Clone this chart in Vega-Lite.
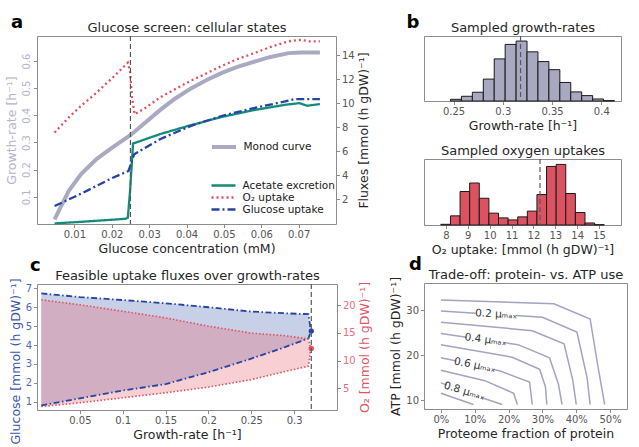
{
  "$schema": "https://vega.github.io/schema/vega-lite/v6.json",
  "padding": {"left": 5, "top": 13, "right": 0, "bottom": 0},
  "background": "white",
  "config": {
    "font": "DejaVu Sans",
    "view": {"stroke": "#8c8c8c", "strokeWidth": 1},
    "axis": {"domain": false, "grid": false, "labelFont": "DejaVu Sans", "titleFont": "DejaVu Sans", "labelFontSize": 10, "labelColor": "#555555", "titleFontSize": 12.5, "titleFontWeight": "normal", "titleColor": "#262626", "tickColor": "#8c8c8c", "tickSize": 3.5, "labelPadding": 2, "titlePadding": 3},
    "title": {"font": "DejaVu Sans", "fontSize": 18, "fontWeight": "bold", "color": "#000000", "anchor": "start", "frame": "group", "offset": 0},
    "legend": {"labelFont": "DejaVu Sans"}
  },
  "datasets": {
    "monod": [
      {"x": 0.0047, "g": 0.017, "s": "Monod curve"},
      {"x": 0.0085, "g": 0.122, "s": "Monod curve"},
      {"x": 0.0118, "g": 0.184, "s": "Monod curve"},
      {"x": 0.016, "g": 0.240, "s": "Monod curve"},
      {"x": 0.0203, "g": 0.283, "s": "Monod curve"},
      {"x": 0.0249, "g": 0.326, "s": "Monod curve"},
      {"x": 0.0286, "g": 0.369, "s": "Monod curve"},
      {"x": 0.0329, "g": 0.419, "s": "Monod curve"},
      {"x": 0.037, "g": 0.462, "s": "Monod curve"},
      {"x": 0.0412, "g": 0.499, "s": "Monod curve"},
      {"x": 0.0454, "g": 0.530, "s": "Monod curve"},
      {"x": 0.0496, "g": 0.557, "s": "Monod curve"},
      {"x": 0.0538, "g": 0.579, "s": "Monod curve"},
      {"x": 0.058, "g": 0.597, "s": "Monod curve"},
      {"x": 0.0622, "g": 0.614, "s": "Monod curve"},
      {"x": 0.0673, "g": 0.629, "s": "Monod curve"},
      {"x": 0.0706, "g": 0.631, "s": "Monod curve"},
      {"x": 0.0757, "g": 0.631, "s": "Monod curve"}
    ],
    "flux": [
      {"x": 0.0047, "v": 0.0, "s": "Acetate excretion"},
      {"x": 0.0118, "v": 0.13, "s": "Acetate excretion"},
      {"x": 0.0236, "v": 0.38, "s": "Acetate excretion"},
      {"x": 0.0243, "v": 0.47, "s": "Acetate excretion"},
      {"x": 0.0249, "v": 2.69, "s": "Acetate excretion"},
      {"x": 0.0257, "v": 6.64, "s": "Acetate excretion"},
      {"x": 0.0329, "v": 7.42, "s": "Acetate excretion"},
      {"x": 0.0412, "v": 8.17, "s": "Acetate excretion"},
      {"x": 0.0496, "v": 8.86, "s": "Acetate excretion"},
      {"x": 0.058, "v": 9.42, "s": "Acetate excretion"},
      {"x": 0.0664, "v": 9.86, "s": "Acetate excretion"},
      {"x": 0.0702, "v": 10.0, "s": "Acetate excretion"},
      {"x": 0.0723, "v": 9.78, "s": "Acetate excretion"},
      {"x": 0.0757, "v": 9.92, "s": "Acetate excretion"},
      {"x": 0.0047, "v": 7.55, "s": "O₂ uptake"},
      {"x": 0.0085, "v": 8.81, "s": "O₂ uptake"},
      {"x": 0.0118, "v": 9.78, "s": "O₂ uptake"},
      {"x": 0.016, "v": 10.89, "s": "O₂ uptake"},
      {"x": 0.0203, "v": 12.14, "s": "O₂ uptake"},
      {"x": 0.0243, "v": 13.36, "s": "O₂ uptake"},
      {"x": 0.0249, "v": 12.6, "s": "O₂ uptake"},
      {"x": 0.0254, "v": 10.5, "s": "O₂ uptake"},
      {"x": 0.0261, "v": 9.07, "s": "O₂ uptake"},
      {"x": 0.0286, "v": 9.51, "s": "O₂ uptake"},
      {"x": 0.0329, "v": 10.47, "s": "O₂ uptake"},
      {"x": 0.037, "v": 11.17, "s": "O₂ uptake"},
      {"x": 0.0412, "v": 11.87, "s": "O₂ uptake"},
      {"x": 0.0454, "v": 12.48, "s": "O₂ uptake"},
      {"x": 0.0496, "v": 13.12, "s": "O₂ uptake"},
      {"x": 0.0538, "v": 13.68, "s": "O₂ uptake"},
      {"x": 0.058, "v": 14.14, "s": "O₂ uptake"},
      {"x": 0.0622, "v": 14.64, "s": "O₂ uptake"},
      {"x": 0.0673, "v": 15.14, "s": "O₂ uptake"},
      {"x": 0.0706, "v": 15.26, "s": "O₂ uptake"},
      {"x": 0.0732, "v": 15.12, "s": "O₂ uptake"},
      {"x": 0.0757, "v": 15.14, "s": "O₂ uptake"},
      {"x": 0.0047, "v": 1.44, "s": "Glucose uptake"},
      {"x": 0.0118, "v": 2.47, "s": "Glucose uptake"},
      {"x": 0.0203, "v": 3.80, "s": "Glucose uptake"},
      {"x": 0.0245, "v": 4.36, "s": "Glucose uptake"},
      {"x": 0.0251, "v": 4.92, "s": "Glucose uptake"},
      {"x": 0.026, "v": 5.75, "s": "Glucose uptake"},
      {"x": 0.0329, "v": 7.0, "s": "Glucose uptake"},
      {"x": 0.0412, "v": 8.11, "s": "Glucose uptake"},
      {"x": 0.0496, "v": 8.95, "s": "Glucose uptake"},
      {"x": 0.058, "v": 9.59, "s": "Glucose uptake"},
      {"x": 0.0664, "v": 10.14, "s": "Glucose uptake"},
      {"x": 0.0689, "v": 10.34, "s": "Glucose uptake"},
      {"x": 0.0757, "v": 10.34, "s": "Glucose uptake"}
    ],
    "ruleA": [{"x": 0.025}],
    "ghist": [
      {"x0": 0.2469, "x1": 0.2580, "n": 5},
      {"x0": 0.2580, "x1": 0.2691, "n": 14},
      {"x0": 0.2691, "x1": 0.2802, "n": 26},
      {"x0": 0.2802, "x1": 0.2913, "n": 65},
      {"x0": 0.2913, "x1": 0.3024, "n": 125},
      {"x0": 0.3024, "x1": 0.3135, "n": 168},
      {"x0": 0.3135, "x1": 0.3246, "n": 178},
      {"x0": 0.3246, "x1": 0.3357, "n": 146},
      {"x0": 0.3357, "x1": 0.3468, "n": 117},
      {"x0": 0.3468, "x1": 0.3579, "n": 93},
      {"x0": 0.3579, "x1": 0.3690, "n": 55},
      {"x0": 0.3690, "x1": 0.3801, "n": 27},
      {"x0": 0.3801, "x1": 0.3912, "n": 16},
      {"x0": 0.3912, "x1": 0.4023, "n": 6},
      {"x0": 0.4023, "x1": 0.4134, "n": 1}
    ],
    "ruleB1": [{"x": 0.318}],
    "ohist": [
      {"x0": 7.770, "x1": 8.209, "n": 2},
      {"x0": 8.209, "x1": 8.648, "n": 27},
      {"x0": 8.648, "x1": 9.087, "n": 99},
      {"x0": 9.087, "x1": 9.526, "n": 124},
      {"x0": 9.526, "x1": 9.965, "n": 79},
      {"x0": 9.965, "x1": 10.404, "n": 35},
      {"x0": 10.404, "x1": 10.843, "n": 21},
      {"x0": 10.843, "x1": 11.282, "n": 15},
      {"x0": 11.282, "x1": 11.721, "n": 24},
      {"x0": 11.721, "x1": 12.160, "n": 41},
      {"x0": 12.160, "x1": 12.599, "n": 90},
      {"x0": 12.599, "x1": 13.038, "n": 173},
      {"x0": 13.038, "x1": 13.477, "n": 179},
      {"x0": 13.477, "x1": 13.916, "n": 93},
      {"x0": 13.916, "x1": 14.355, "n": 37},
      {"x0": 14.355, "x1": 14.794, "n": 6},
      {"x0": 14.794, "x1": 15.233, "n": 1}
    ],
    "ruleB2": [{"x": 12.3}],
    "feas": [
      {"mu": 0.005, "gmin": 0.80, "gmax": 6.73, "omin": 1.72, "omax": 20.96},
      {"mu": 0.05, "gmin": 1.18, "gmax": 6.54, "omin": 2.40, "omax": 20.05},
      {"mu": 0.1, "gmin": 1.59, "gmax": 6.38, "omin": 3.30, "omax": 18.9},
      {"mu": 0.15, "gmin": 1.93, "gmax": 6.21, "omin": 4.20, "omax": 17.7},
      {"mu": 0.2, "gmin": 2.56, "gmax": 6.00, "omin": 5.23, "omax": 16.2},
      {"mu": 0.25, "gmin": 3.28, "gmax": 5.77, "omin": 6.57, "omax": 14.95},
      {"mu": 0.29, "gmin": 3.90, "gmax": 5.68, "omin": 8.05, "omax": 14.48},
      {"mu": 0.3167, "gmin": 4.35, "gmax": 5.63, "omin": 9.0, "omax": 13.9},
      {"mu": 0.3195, "gmin": 4.74, "gmax": 4.74, "omin": 12.2, "omax": 12.2}
    ],
    "dotsC": [{"mu": 0.32, "g": 4.74, "o": 12.2}],
    "ruleC": [{"mu": 0.32}],
    "contours": [
      {"c": "L1", "p": 0, "atp": 32.24}, {"c": "L1", "p": 33.4, "atp": 31.4}, {"c": "L1", "p": 44.1, "atp": 28.0}, {"c": "L1", "p": 46.4, "atp": 17.5}, {"c": "L1", "p": 48.4, "atp": 9.0},
      {"c": "L2a", "p": 0, "atp": 29.8}, {"c": "L2a", "p": 10.3, "atp": 29.3},
      {"c": "L2b", "p": 22.2, "atp": 28.8}, {"c": "L2b", "p": 30.0, "atp": 28.4}, {"c": "L2b", "p": 40.2, "atp": 25.1}, {"c": "L2b", "p": 43.2, "atp": 15.0}, {"c": "L2b", "p": 44.1, "atp": 9.0},
      {"c": "L3", "p": 0, "atp": 27.3}, {"c": "L3", "p": 27.0, "atp": 25.4}, {"c": "L3", "p": 36.4, "atp": 22.5}, {"c": "L3", "p": 39.0, "atp": 14.3}, {"c": "L3", "p": 40.0, "atp": 9.0},
      {"c": "L4a", "p": 0, "atp": 24.8}, {"c": "L4a", "p": 7.6, "atp": 23.95},
      {"c": "L4b", "p": 18.7, "atp": 22.75}, {"c": "L4b", "p": 22.8, "atp": 22.3}, {"c": "L4b", "p": 32.1, "atp": 19.4}, {"c": "L4b", "p": 34.7, "atp": 13.6}, {"c": "L4b", "p": 35.8, "atp": 9.0},
      {"c": "L5", "p": 0, "atp": 22.3}, {"c": "L5", "p": 21.1, "atp": 19.5}, {"c": "L5", "p": 29.2, "atp": 16.8}, {"c": "L5", "p": 30.9, "atp": 12.9}, {"c": "L5", "p": 31.3, "atp": 9.0},
      {"c": "L6a", "p": 0, "atp": 19.4}, {"c": "L6a", "p": 4.6, "atp": 18.65},
      {"c": "L6b", "p": 15.5, "atp": 16.8}, {"c": "L6b", "p": 17.3, "atp": 16.5}, {"c": "L6b", "p": 26.2, "atp": 14.0}, {"c": "L6b", "p": 27.0, "atp": 9.0},
      {"c": "L7", "p": 0, "atp": 16.6}, {"c": "L7", "p": 13.0, "atp": 14.3}, {"c": "L7", "p": 21.5, "atp": 11.5}, {"c": "L7", "p": 22.6, "atp": 9.0},
      {"c": "L8a", "p": 0, "atp": 13.8}, {"c": "L8a", "p": 1.8, "atp": 13.3},
      {"c": "L8b", "p": 12.0, "atp": 10.55}, {"c": "L8b", "p": 12.6, "atp": 10.4}, {"c": "L8b", "p": 18.1, "atp": 9.0},
      {"c": "L9", "p": 0, "atp": 11.5}, {"c": "L9", "p": 9.6, "atp": 9.0}
    ],
    "clabels": [
      {"k": 1, "p": 16.3, "atp": 29.05, "t": "0.2 μₘₐₓ"},
      {"k": 2, "p": 13.2, "atp": 23.36, "t": "0.4 μₘₐₓ"},
      {"k": 3, "p": 10.0, "atp": 17.72, "t": "0.6 μₘₐₓ"},
      {"k": 4, "p": 6.9, "atp": 11.94, "t": "0.8 μₘₐₓ"}
    ]
  },
  "spacing": 17,
  "hconcat": [
    {
      "spacing": 0,
      "vconcat": [
        {
          "title": {"text": "a", "dx": -26, "dy": 14.5},
          "width": 299,
          "height": 188,
          "layer": [
            {
              "data": {"name": "monod"},
              "mark": {"type": "line", "strokeWidth": 4},
              "encoding": {
                "x": {"field": "x", "type": "quantitative", "scale": {"domain": [0.0042, 0.0795]}, "axis": {"orient": "bottom", "values": [0.01, 0.02, 0.03, 0.04, 0.05, 0.06, 0.07], "format": "~g", "title": "Glucose concentration (mM)"}},
                "y": {"field": "g", "type": "quantitative", "scale": {"domain": [0, 0.692]}, "axis": {"orient": "left", "values": [0.1, 0.2, 0.3, 0.4, 0.5, 0.6], "format": "~g", "labelAngle": 270, "labelAlign": "center", "labelBaseline": "bottom", "labelColor": "#b4b4c8", "title": "Growth-rate [h⁻¹]", "titleColor": "#b4b4c8"}},
                "color": {"field": "s", "type": "nominal", "scale": {"domain": ["Monod curve"], "range": ["#a9a9c2"]}, "legend": {"title": null, "orient": "none", "legendX": 181, "legendY": 105, "symbolType": "M-3,0H3", "symbolSize": 64, "symbolStrokeWidth": 4, "labelFontSize": 10.5, "labelColor": "#1a1a1a", "labelOffset": 13.5, "padding": 0}}
              }
            },
            {
              "data": {"name": "flux"},
              "mark": {"type": "line", "strokeWidth": 2.3},
              "encoding": {
                "x": {"field": "x", "type": "quantitative", "axis": null},
                "y": {"field": "v", "type": "quantitative", "scale": {"domain": [-0.05, 15.58]}, "axis": {"orient": "right", "values": [2, 4, 6, 8, 10, 12, 14], "title": "Fluxes [mmol (h gDW)⁻¹]", "titleAngle": 270, "titleBaseline": "top"}},
                "color": {"field": "s", "type": "nominal", "scale": {"domain": ["Acetate excretion", "O₂ uptake", "Glucose uptake"], "range": ["#138c7b", "#e0505f", "#2444a5"]}, "legend": {"title": null, "orient": "none", "legendX": 181, "legendY": 144, "symbolType": "M-3,0H3", "symbolSize": 64, "symbolStrokeWidth": 2.5, "labelFontSize": 10.5, "labelColor": "#1a1a1a", "labelOffset": 13.5, "rowPadding": 1, "padding": 0}},
                "strokeDash": {"field": "s", "type": "nominal", "scale": {"domain": ["Acetate excretion", "O₂ uptake", "Glucose uptake"], "range": [[1, 0], [2, 3], [8, 3, 2, 3]]}, "legend": {"title": null, "orient": "none", "legendX": 181, "legendY": 144, "symbolType": "M-3,0H3", "symbolSize": 64, "symbolStrokeWidth": 2.5, "labelFontSize": 10.5, "labelColor": "#1a1a1a", "labelOffset": 13.5, "rowPadding": 1, "padding": 0}}
              }
            },
            {
              "data": {"name": "ruleA"},
              "mark": {"type": "rule", "color": "#555555", "strokeDash": [5, 3], "strokeWidth": 1.2},
              "encoding": {
                "x": {"field": "x", "type": "quantitative", "axis": {"orient": "top", "title": "Glucose screen: cellular states", "labels": false, "ticks": false, "titleFontSize": 13, "titlePadding": 2}}
              }
            }
          ],
          "resolve": {"scale": {"y": "independent", "color": "independent", "strokeDash": "independent"}, "axis": {"x": "independent"}}
        },
        {
          "title": {"text": "c", "dx": -7, "dy": 9.5},
          "width": 300,
          "height": 126,
          "layer": [
            {
              "data": {"name": "feas"},
              "mark": {"type": "area", "color": "#3050a8", "opacity": 0.27},
              "encoding": {
                "x": {"field": "mu", "type": "quantitative", "scale": {"domain": [0.0006, 0.3354]}, "axis": {"orient": "bottom", "values": [0.05, 0.1, 0.15, 0.2, 0.25, 0.3], "format": "~g", "title": "Growth-rate [h⁻¹]"}},
                "y": {"field": "gmin", "type": "quantitative", "scale": {"domain": [0.56, 7.23]}, "axis": {"orient": "left", "values": [1, 2, 3, 4, 5, 6, 7], "labelColor": "#5468b8", "title": "Glucose [mmol (h gDW)⁻¹]", "titleColor": "#3a55b0", "titleY": 77}},
                "y2": {"field": "gmax"}
              }
            },
            {
              "data": {"name": "feas"},
              "mark": {"type": "area", "color": "#e8606e", "opacity": 0.3},
              "encoding": {
                "x": {"field": "mu", "type": "quantitative", "axis": null},
                "y": {"field": "omin", "type": "quantitative", "scale": {"domain": [1.1, 23.8]}, "axis": {"orient": "right", "values": [5, 10, 15, 20], "labelColor": "#ea6d7b", "title": "O₂ [mmol (h gDW)⁻¹]", "titleColor": "#e05565", "titleAngle": 270, "titleBaseline": "top"}},
                "y2": {"field": "omax"}
              }
            },
            {
              "data": {"name": "feas"},
              "mark": {"type": "line", "color": "#2444a5", "strokeWidth": 1.8, "strokeDash": [6, 2.5, 1.5, 2.5]},
              "encoding": {
                "x": {"field": "mu", "type": "quantitative", "axis": null},
                "y": {"field": "gmax", "type": "quantitative", "scale": {"domain": [0.56, 7.23]}, "axis": null}
              }
            },
            {
              "data": {"name": "feas"},
              "mark": {"type": "line", "color": "#2444a5", "strokeWidth": 1.8, "strokeDash": [6, 2.5, 1.5, 2.5]},
              "encoding": {
                "x": {"field": "mu", "type": "quantitative", "axis": null},
                "y": {"field": "gmin", "type": "quantitative", "scale": {"domain": [0.56, 7.23]}, "axis": null}
              }
            },
            {
              "data": {"name": "feas"},
              "mark": {"type": "line", "color": "#e0505f", "strokeWidth": 1.6, "strokeDash": [1.5, 2]},
              "encoding": {
                "x": {"field": "mu", "type": "quantitative", "axis": null},
                "y": {"field": "omax", "type": "quantitative", "scale": {"domain": [1.1, 23.8]}, "axis": null}
              }
            },
            {
              "data": {"name": "feas"},
              "mark": {"type": "line", "color": "#e0505f", "strokeWidth": 1.6, "strokeDash": [1.5, 2]},
              "encoding": {
                "x": {"field": "mu", "type": "quantitative", "axis": null},
                "y": {"field": "omin", "type": "quantitative", "scale": {"domain": [1.1, 23.8]}, "axis": null}
              }
            },
            {
              "data": {"name": "dotsC"},
              "mark": {"type": "point", "filled": true, "color": "#2444a5", "size": 28, "opacity": 1},
              "encoding": {
                "x": {"field": "mu", "type": "quantitative", "axis": null},
                "y": {"field": "g", "type": "quantitative", "scale": {"domain": [0.56, 7.23]}, "axis": null}
              }
            },
            {
              "data": {"name": "dotsC"},
              "mark": {"type": "point", "filled": true, "color": "#e0505f", "size": 28, "opacity": 1},
              "encoding": {
                "x": {"field": "mu", "type": "quantitative", "axis": null},
                "y": {"field": "o", "type": "quantitative", "scale": {"domain": [1.1, 23.8]}, "axis": null}
              }
            },
            {
              "data": {"name": "ruleC"},
              "mark": {"type": "rule", "color": "#555555", "strokeDash": [5, 3], "strokeWidth": 1.2},
              "encoding": {
                "x": {"field": "mu", "type": "quantitative", "axis": {"orient": "top", "title": "Feasible uptake fluxes over growth-rates", "labels": false, "ticks": false, "titleFontSize": 13, "titlePadding": 2}}
              }
            }
          ],
          "resolve": {"scale": {"y": "independent"}, "axis": {"x": "independent"}}
        }
      ]
    },
    {
      "spacing": -2,
      "vconcat": [
        {
          "title": {"text": "b", "dx": -17.6, "dy": 14.5},
          "width": 197,
          "height": 65,
          "layer": [
            {
              "data": {"name": "ghist"},
              "mark": {"type": "rect", "fill": "#a8a8c0", "stroke": "#1a1a1a", "strokeWidth": 1},
              "encoding": {
                "x": {"field": "x0", "type": "quantitative", "scale": {"domain": [0.2388, 0.4166]}, "axis": {"orient": "bottom", "values": [0.25, 0.3, 0.35, 0.4], "format": "~g", "title": "Growth-rate [h⁻¹]"}},
                "x2": {"field": "x1"},
                "y": {"field": "n", "type": "quantitative", "scale": {"domain": [0, 193]}, "axis": null},
                "y2": {"datum": 0}
              }
            },
            {
              "data": {"name": "ruleB1"},
              "mark": {"type": "rule", "color": "#555566", "strokeDash": [5, 3], "strokeWidth": 1.2},
              "encoding": {
                "x": {"field": "x", "type": "quantitative", "axis": {"orient": "top", "title": "Sampled growth-rates", "labels": false, "ticks": false, "titleFontSize": 13, "titlePadding": 2}}
              }
            }
          ],
          "resolve": {"axis": {"x": "independent"}}
        },
        {
          "title": {"text": " ", "dx": -17.6, "dy": 9.5},
          "width": 197,
          "height": 66,
          "layer": [
            {
              "data": {"name": "ohist"},
              "mark": {"type": "rect", "fill": "#db5260", "stroke": "#1a1a1a", "strokeWidth": 1},
              "encoding": {
                "x": {"field": "x0", "type": "quantitative", "scale": {"domain": [7.41, 15.38]}, "axis": {"orient": "bottom", "values": [8, 9, 10, 11, 12, 13, 14, 15], "title": "O₂ uptake: [mmol (h gDW)⁻¹]"}},
                "x2": {"field": "x1"},
                "y": {"field": "n", "type": "quantitative", "scale": {"domain": [0, 195]}, "axis": null},
                "y2": {"datum": 0}
              }
            },
            {
              "data": {"name": "ruleB2"},
              "mark": {"type": "rule", "color": "#555566", "strokeDash": [5, 3], "strokeWidth": 1.2},
              "encoding": {
                "x": {"field": "x", "type": "quantitative", "axis": {"orient": "top", "title": "Sampled oxygen uptakes", "labels": false, "ticks": false, "titleFontSize": 13, "titlePadding": 2}}
              }
            }
          ],
          "resolve": {"axis": {"x": "independent"}}
        },
        {
          "title": {"text": "d", "dx": -15, "dy": 9.5},
          "width": 203,
          "height": 126,
          "layer": [
            {
              "data": {"name": "contours"},
              "mark": {"type": "line", "color": "#a3a3c2", "strokeWidth": 1.5},
              "encoding": {
                "x": {"field": "p", "type": "quantitative", "scale": {"domain": [-0.77, 51.0]}, "axis": {"orient": "bottom", "values": [0, 10, 20, 30, 40, 50], "labelExpr": "datum.value + '%'", "title": "Proteome fraction of protein"}},
                "y": {"field": "atp", "type": "quantitative", "scale": {"domain": [9.0, 35.8]}, "axis": {"values": [10, 15, 20, 25, 30, 35], "title": "ATP [mmol (h gDW)⁻¹]"}},
                "detail": {"field": "c", "type": "nominal"}
              }
            },
            {
              "data": {"name": "clabels"},
              "transform": [{"filter": "datum.k == 1"}],
              "mark": {"type": "text", "angle": 3, "fontSize": 10.5, "color": "#333333", "align": "center", "baseline": "middle"},
              "encoding": {
                "x": {"field": "p", "type": "quantitative", "axis": {"orient": "top", "title": "Trade-off: protein- vs. ATP use", "labels": false, "ticks": false, "titleFontSize": 13, "titlePadding": 2}},
                "y": {"field": "atp", "type": "quantitative"},
                "text": {"field": "t"}
              }
            },
            {
              "data": {"name": "clabels"},
              "transform": [{"filter": "datum.k == 2"}],
              "mark": {"type": "text", "angle": 7, "fontSize": 10.5, "color": "#333333", "align": "center", "baseline": "middle"},
              "encoding": {
                "x": {"field": "p", "type": "quantitative", "axis": null},
                "y": {"field": "atp", "type": "quantitative"},
                "text": {"field": "t"}
              }
            },
            {
              "data": {"name": "clabels"},
              "transform": [{"filter": "datum.k == 3"}],
              "mark": {"type": "text", "angle": 11, "fontSize": 10.5, "color": "#333333", "align": "center", "baseline": "middle"},
              "encoding": {
                "x": {"field": "p", "type": "quantitative", "axis": null},
                "y": {"field": "atp", "type": "quantitative"},
                "text": {"field": "t"}
              }
            },
            {
              "data": {"name": "clabels"},
              "transform": [{"filter": "datum.k == 4"}],
              "mark": {"type": "text", "angle": 16, "fontSize": 10.5, "color": "#333333", "align": "center", "baseline": "middle"},
              "encoding": {
                "x": {"field": "p", "type": "quantitative", "axis": null},
                "y": {"field": "atp", "type": "quantitative"},
                "text": {"field": "t"}
              }
            }
          ],
          "resolve": {"axis": {"x": "independent"}}
        }
      ]
    }
  ]
}
